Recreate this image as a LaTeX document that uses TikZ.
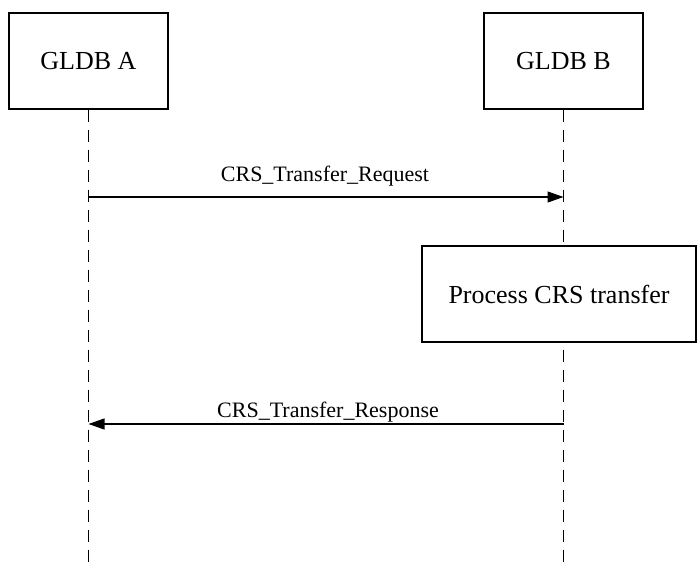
\documentclass[tikz,border=0pt]{standalone}
\usepackage{fontspec}
\setmainfont{Liberation Serif}
\usetikzlibrary{arrows.meta,positioning}

\begin{document}
\begin{tikzpicture}[x=1pt, y=-1pt,
	entity/.style={draw, line width=1.1pt, minimum width=159pt, minimum height=96pt, inner sep=0pt, font=\fontsize{26}{30}\selectfont},
	lifeline/.style={line width=1.8pt, dash pattern=on 12pt off 8pt},
	msg/.style={line width=1.2pt, -{Triangle[length=16pt, width=11pt]}},
	msglabel/.style={anchor=base, inner sep=0pt, font=\fontsize{22}{26}\selectfont}]
	\useasboundingbox (0,0) rectangle (697,563);
	\node [entity] (gldba) at (88.5,61) {GLDB A};
	\node [entity] (gldbb) at (563.5,61) {GLDB B};
	\coordinate (enda) at (gldba |- 0,563);
	\coordinate (endb) at (gldbb |- 0,563);
	\draw [lifeline] (gldba.south) -- (enda);
	\draw [lifeline] (gldbb.south) -- (endb);
	\node [entity, fill=white, minimum width=274pt] (process) at (559,294) {Process CRS transfer};
	% request
	\coordinate (reqa) at (gldba |- 0,197);
	\coordinate (reqb) at (gldbb |- 0,197);
	\draw [msg] (reqa) -- (reqb);
	\node [msglabel] (reqlabel) at (325,181) {CRS\_Transfer\_Request};
	% response
	\coordinate (resa) at (gldba |- 0,424);
	\coordinate (resb) at (gldbb |- 0,424);
	\draw [msg] (resb) -- (resa);
	\node [msglabel] (reslabel) at (328,417) {CRS\_Transfer\_Response};
\end{tikzpicture}
\end{document}
